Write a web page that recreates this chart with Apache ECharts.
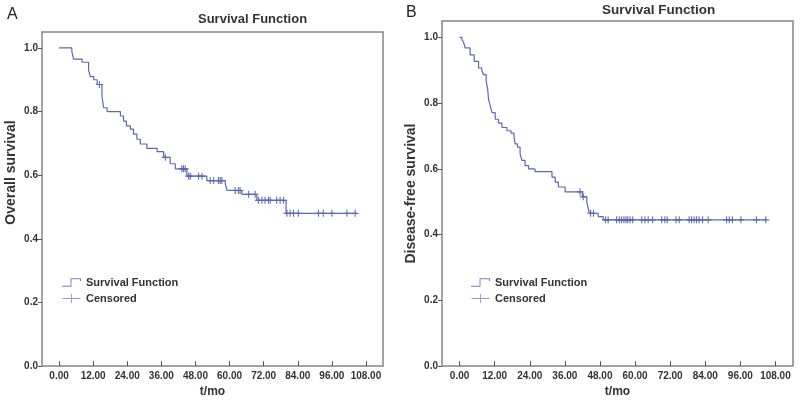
<!DOCTYPE html>
<html>
<head>
<meta charset="utf-8">
<script src="https://cdn.jsdelivr.net/npm/echarts@6/dist/echarts.min.js"></script>
<style>
html,body{margin:0;padding:0;background:#fff;}
#chart{width:800px;height:403px;}
</style>
</head>
<body>
<div id="chart"></div>
<script>
// ---------- data ----------
// Panel A: overall survival (time in months, survival after each event)
const A_eventTimes = [0, 4.5, 5.1, 8.1, 10.4, 11.0, 12.2, 13.4, 15.1, 15.7, 16.9, 21.6, 22.7, 23.7, 25.1, 26.2, 27.4, 28.6, 30.9, 34.5, 36.8, 39.1, 40.9, 45.0, 52.0, 58.5, 59.1, 64.3, 69.6, 79.9, 104.8];
const A_survival   = [1.0, 0.988, 0.965, 0.955, 0.93, 0.91, 0.90, 0.885, 0.848, 0.812, 0.80, 0.786, 0.77, 0.755, 0.745, 0.729, 0.713, 0.698, 0.684, 0.674, 0.656, 0.636, 0.62, 0.597, 0.583, 0.573, 0.552, 0.54, 0.521, 0.48, 0.48];
const A_censorTimes = [14.2, 37.4, 43.2, 43.8, 44.4, 45.6, 46.2, 49.1, 50.3, 53.2, 54.4, 56.1, 56.7, 57.3, 62.0, 63.1, 63.7, 66.7, 69.0, 70.2, 71.4, 72.5, 73.7, 74.3, 76.6, 77.8, 79.0, 80.2, 81.3, 82.5, 84.2, 91.3, 93.0, 96.0, 101.3, 104.2];

// Panel B: disease-free survival
const B_eventTimes = [0, 0.8, 1.4, 1.9, 3.6, 5.0, 6.5, 7.6, 8.2, 9.1, 9.6, 9.9, 10.5, 11.1, 12.2, 13.3, 14.5, 16.2, 17.6, 18.6, 19.0, 19.8, 20.7, 21.3, 22.4, 23.6, 25.8, 31.6, 32.7, 33.8, 36.1, 42.0, 43.5, 44.0, 44.4, 47.4, 49.1, 104.9];
const B_survival   = [1.0, 0.993, 0.985, 0.968, 0.947, 0.927, 0.907, 0.90, 0.887, 0.867, 0.844, 0.812, 0.791, 0.771, 0.751, 0.739, 0.726, 0.716, 0.709, 0.70, 0.676, 0.666, 0.646, 0.626, 0.61, 0.60, 0.592, 0.575, 0.56, 0.545, 0.53, 0.515, 0.50, 0.48, 0.465, 0.455, 0.445, 0.445];
const B_censorTimes = [41.2, 42.3, 44.8, 45.8, 49.9, 50.8, 53.7, 54.6, 55.4, 56.2, 56.9, 57.5, 58.3, 59.2, 62.3, 63.4, 64.5, 66.0, 69.1, 70.2, 71.0, 74.0, 75.1, 78.5, 79.3, 80.2, 81.0, 81.9, 83.1, 85.0, 91.3, 92.2, 93.3, 96.2, 101.5, 104.7];

const xTickValues = [0, 12, 24, 36, 48, 60, 72, 84, 96, 108];
const yTickValues = [0, 0.2, 0.4, 0.6, 0.8, 1.0];
const panelLabels = ['A', 'B'];
const titles = ['Survival Function', 'Survival Function'];
const yNames = ['Overall survival', 'Disease-free survival'];
const xName = 't/mo';
const seriesNames = ['Survival Function', 'Censored'];

// ---------- helpers ----------
function stepValueAt(times, surv, t) {
  let v = surv[0];
  for (let i = 0; i < times.length; i++) { if (times[i] <= t) v = surv[i]; }
  return v;
}
function curve(times, surv) { return times.map((t, i) => [t, surv[i]]); }
function censors(ct, times, surv) { return ct.map(t => [t, stepValueAt(times, surv, t)]); }

const FONT = 'Liberation Sans, Arial, sans-serif';
const LINE = '#5a69b0';
const MARK = '#3e4e9e';
const PLUS = 'path://M4.2,0 H5.8 V4.2 H10 V5.8 H5.8 V10 H4.2 V5.8 H0 V4.2 H4.2 Z';
const STEP_ICON = 'path://M0,9 L9,9 L9,1 L20,1 L20,4 L19,4 L19,2 L10,2 L10,10 L0,10 Z';
const CROSS_ICON = 'path://M0,4.5 L20,4.5 L20,5.5 L0,5.5 Z M9.5,0 L10.5,0 L10.5,10 L9.5,10 Z';

function xAxis(gi) {
  return {
    type: 'value', gridIndex: gi, min: -6, max: 114,
    name: xName, nameLocation: 'middle', nameGap: 19,
    nameTextStyle: {fontFamily: FONT, fontWeight: 'bold', fontSize: 12, color: '#333'},
    axisLine: {show: false, onZero: false},
    axisTick: {show: true, inside: true, length: 5, customValues: xTickValues, lineStyle: {color: '#555', width: 1}},
    axisLabel: {show: true, customValues: xTickValues, margin: 5, fontFamily: FONT, fontWeight: 'bold', fontSize: 10, color: '#333',
      formatter: v => v.toFixed(2)},
    splitLine: {show: false}
  };
}
function yAxis(gi, name, pad) {
  return {
    type: 'value', gridIndex: gi, min: 0, max: 1.05,
    name: name, nameLocation: 'middle', nameGap: 24,
    nameTextStyle: {fontFamily: FONT, fontWeight: 'bold', fontSize: 14, color: '#333', padding: pad},
    axisLine: {show: false, onZero: false},
    axisTick: {show: true, inside: false, length: 4, customValues: yTickValues, lineStyle: {color: '#555', width: 1}},
    axisLabel: {show: true, customValues: yTickValues, margin: 4, fontFamily: FONT, fontWeight: 'bold', fontSize: 10, color: '#333',
      formatter: v => v.toFixed(1)},
    splitLine: {show: false}
  };
}
function legend(left) {
  return {
    orient: 'vertical', left: left, top: 277, padding: 0,
    itemWidth: 19, itemHeight: 9, itemGap: 5,
    textStyle: {fontFamily: FONT, fontWeight: 'bold', fontSize: 11, color: '#333'},
    data: [
      {name: seriesNames[0], icon: STEP_ICON, itemStyle: {color: '#7682c2'}},
      {name: seriesNames[1], icon: CROSS_ICON, itemStyle: {color: '#7682c2'}}
    ]
  };
}

const option = {
  backgroundColor: '#fff',
  animation: false,
  title: [
    {text: panelLabels[0], left: 7, top: 7, padding: 0, textStyle: {fontFamily: FONT, fontWeight: 'normal', fontSize: 16, color: '#222'}},
    {text: panelLabels[1], left: 406, top: 5, padding: 0, textStyle: {fontFamily: FONT, fontWeight: 'normal', fontSize: 16, color: '#222'}},
    {text: titles[0], left: 198, top: 13, padding: 0, textStyle: {fontFamily: FONT, fontWeight: 'bold', fontSize: 13, color: '#333'}},
    {text: titles[1], left: 602, top: 3, padding: 0, textStyle: {fontFamily: FONT, fontWeight: 'bold', fontSize: 13.5, color: '#333'}}
  ],
  legend: [legend(62), legend(471)],
  grid: [
    {left: 42, top: 32, width: 341, height: 337, show: true, borderColor: '#858585', borderWidth: 1.5, backgroundColor: 'transparent'},
    {left: 442, top: 21, width: 351, height: 348, show: true, borderColor: '#858585', borderWidth: 1.5, backgroundColor: 'transparent'}
  ],
  xAxis: [xAxis(0), xAxis(1)],
  yAxis: [yAxis(0, yNames[0], [0, 0, 0, 53]), yAxis(1, yNames[1], 0)],
  series: [
    {name: seriesNames[0], type: 'line', step: 'end', xAxisIndex: 0, yAxisIndex: 0, showSymbol: false, symbol: 'none',
      lineStyle: {color: LINE, width: 1.2}, itemStyle: {color: LINE}, data: curve(A_eventTimes, A_survival)},
    {name: seriesNames[1], type: 'scatter', xAxisIndex: 0, yAxisIndex: 0, symbol: PLUS, symbolSize: 7,
      itemStyle: {color: MARK}, data: censors(A_censorTimes, A_eventTimes, A_survival)},
    {name: seriesNames[0], type: 'line', step: 'end', xAxisIndex: 1, yAxisIndex: 1, showSymbol: false, symbol: 'none',
      lineStyle: {color: LINE, width: 1.2}, itemStyle: {color: LINE}, data: curve(B_eventTimes, B_survival)},
    {name: seriesNames[1], type: 'scatter', xAxisIndex: 1, yAxisIndex: 1, symbol: PLUS, symbolSize: 7,
      itemStyle: {color: MARK}, data: censors(B_censorTimes, B_eventTimes, B_survival)}
  ]
};
const chart = echarts.init(document.getElementById('chart'), null, {renderer: 'canvas'});
chart.setOption(option);
</script>
</body>
</html>
